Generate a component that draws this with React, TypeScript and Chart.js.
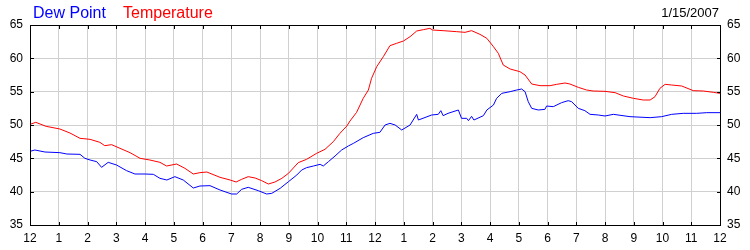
import React, { useEffect, useRef } from "react";
import { Chart, registerables } from "chart.js";

Chart.register(...registerables);

const hourLabels = ["12", "1", "2", "3", "4", "5", "6", "7", "8", "9", "10", "11", "12", "1", "2", "3", "4", "5", "6", "7", "8", "9", "10", "11", "12"];
const yTicks = [35, 40, 45, 50, 55, 60, 65];
const dateLabel = "1/15/2007";
const seriesNames = ["Dew Point", "Temperature"];

const tempHours = [0, 0.2, 0.56, 1.04, 1.39, 1.74, 2.09, 2.43, 2.6, 2.84, 3.13, 3.48, 3.83, 4.17, 4.52, 4.75, 5.1, 5.39, 5.68, 5.91, 6.15, 6.61, 6.96, 7.17, 7.36, 7.59, 7.83, 8.06, 8.29, 8.52, 8.76, 8.99, 9.33, 9.62, 9.97, 10.26, 10.55, 10.78, 11.02, 11.13, 11.36, 11.59, 11.77, 11.88, 12.06, 12.29, 12.52, 12.75, 12.99, 13.22, 13.45, 13.68, 13.91, 14.0, 14.37, 14.84, 15.13, 15.36, 15.65, 15.89, 16.12, 16.29, 16.46, 16.7, 17.04, 17.22, 17.45, 17.74, 18.09, 18.32, 18.61, 18.78, 19.07, 19.36, 19.59, 20.0, 20.35, 20.64, 20.99, 21.33, 21.57, 21.74, 21.91, 22.09, 22.32, 22.67, 23.07, 23.42, 23.77, 24];
const tempValues = [50.1, 50.4, 49.8, 49.4, 48.8, 48.0, 47.85, 47.4, 46.9, 47.05, 46.5, 45.85, 45.0, 44.75, 44.4, 43.85, 44.15, 43.5, 42.65, 42.85, 42.95, 42.15, 41.75, 41.45, 41.85, 42.25, 42.05, 41.65, 41.15, 41.45, 42.0, 42.75, 44.35, 44.85, 45.75, 46.35, 47.5, 48.75, 49.85, 50.6, 51.9, 54.0, 55.25, 57.0, 58.75, 60.25, 61.9, 62.25, 62.6, 63.25, 64.1, 64.3, 64.5, 64.25, 64.15, 64.0, 63.9, 64.15, 63.6, 63.0, 61.75, 60.75, 59.0, 58.4, 58.0, 57.5, 56.15, 55.9, 55.9, 56.1, 56.3, 56.15, 55.65, 55.25, 55.1, 55.05, 54.85, 54.35, 54.0, 53.75, 53.75, 54.25, 55.5, 56.1, 56.0, 55.85, 55.15, 55.1, 54.9, 54.75];

const dewHours = [0, 0.17, 0.52, 1.04, 1.28, 1.74, 1.91, 2.09, 2.32, 2.49, 2.72, 3.01, 3.36, 3.65, 4.0, 4.29, 4.52, 4.76, 5.04, 5.33, 5.68, 5.91, 6.26, 6.61, 7.01, 7.19, 7.36, 7.59, 7.94, 8.23, 8.41, 8.7, 8.99, 9.28, 9.45, 9.62, 9.86, 10.09, 10.2, 10.38, 10.61, 10.84, 11.07, 11.25, 11.59, 11.94, 12.17, 12.35, 12.52, 12.7, 12.93, 13.22, 13.45, 13.51, 13.97, 14.2, 14.29, 14.37, 14.54, 14.9, 15.01, 15.19, 15.25, 15.36, 15.44, 15.77, 15.89, 16.12, 16.23, 16.41, 16.7, 16.93, 17.1, 17.22, 17.33, 17.45, 17.68, 17.91, 17.97, 18.2, 18.49, 18.72, 18.84, 19.07, 19.3, 19.48, 19.77, 20.0, 20.29, 20.87, 21.57, 21.97, 22.32, 22.72, 23.19, 23.54, 24];
const dewValues = [46.05, 46.25, 45.95, 45.85, 45.65, 45.6, 45.0, 44.75, 44.5, 43.65, 44.4, 44.0, 43.15, 42.65, 42.65, 42.6, 42.0, 41.75, 42.25, 41.75, 40.55, 40.85, 40.9, 40.25, 39.65, 39.65, 40.35, 40.65, 40.15, 39.65, 39.75, 40.5, 41.5, 42.5, 43.25, 43.6, 43.85, 44.1, 43.85, 44.5, 45.35, 46.25, 46.85, 47.25, 48.1, 48.75, 48.9, 50.0, 50.25, 50.0, 49.25, 50.0, 51.6, 50.75, 51.5, 51.6, 52.15, 51.4, 51.75, 52.25, 51.0, 51.0, 50.65, 51.3, 50.75, 51.4, 52.25, 53.0, 54.0, 54.75, 55.0, 55.25, 55.4, 55.0, 53.5, 52.5, 52.25, 52.35, 52.85, 52.75, 53.35, 53.65, 53.5, 52.5, 52.15, 51.6, 51.5, 51.35, 51.6, 51.25, 51.1, 51.25, 51.6, 51.75, 51.75, 51.85, 51.85];

const FONT = "'Liberation Sans', Arial, Helvetica, sans-serif";

const framePlugin = {
  id: "frameAndHeader",
  afterDraw(chart: any) {
    const { ctx, chartArea: a, scales } = chart;
    ctx.save();
    ctx.fillStyle = "#000";
    const w = a.right - a.left;
    const h = a.bottom - a.top;
    ctx.fillRect(a.left, a.top, w + 1, 1);
    ctx.fillRect(a.left, a.bottom, w + 1, 1);
    ctx.fillRect(a.left, a.top, 1, h + 1);
    ctx.fillRect(a.right, a.top, 1, h + 1);
    for (let i = 0; i < hourLabels.length; i++) {
      const px = Math.round(scales.x.getPixelForValue(i));
      ctx.fillRect(px, a.top, 1, 4);
      ctx.fillRect(px, a.bottom - 3, 1, 4);
    }
    for (const v of yTicks) {
      const py = Math.round(scales.y.getPixelForValue(v));
      ctx.fillRect(a.left, py, 4, 1);
      ctx.fillRect(a.right - 3, py, 4, 1);
    }
    ctx.font = `16px ${FONT}`;
    ctx.textBaseline = "alphabetic";
    ctx.textAlign = "left";
    ctx.fillStyle = "#0000ff";
    ctx.fillText(seriesNames[0], 33, 18);
    ctx.fillStyle = "#ff0000";
    ctx.fillText(seriesNames[1], 123, 18);
    ctx.font = `13px ${FONT}`;
    ctx.fillStyle = "#000";
    ctx.textAlign = "right";
    ctx.fillText(dateLabel, 719, 17);
    ctx.restore();
  },
};

export default function App() {
  const ref = useRef<HTMLCanvasElement | null>(null);
  useEffect(() => {
    if (!ref.current) return;
    const toPoints = (xs: number[], ys: number[]) => xs.map((x, i) => ({ x, y: ys[i] }));
    const chart = new Chart(ref.current, {
      type: "line",
      data: {
        datasets: [
          {
            label: seriesNames[1],
            data: toPoints(tempHours, tempValues),
            borderColor: "#ff0000",
            borderWidth: 1,
            pointRadius: 0,
            tension: 0,
            yAxisID: "y",
          },
          {
            label: seriesNames[0],
            data: toPoints(dewHours, dewValues),
            borderColor: "#0000ff",
            borderWidth: 1,
            pointRadius: 0,
            tension: 0,
            yAxisID: "y",
          },
        ],
      },
      options: {
        animation: false,
        responsive: false,
        devicePixelRatio: 1,
        layout: { padding: { top: 25, left: 0, right: 0, bottom: 0 } },
        plugins: { legend: { display: false }, tooltip: { enabled: false }, title: { display: false } },
        font: { family: FONT },
        scales: {
          x: {
            type: "linear",
            min: 0,
            max: 24,
            grid: { color: "#d0d0d0", drawTicks: false, lineWidth: 1 },
            border: { display: false },
            ticks: {
              stepSize: 1,
              autoSkip: false,
              maxRotation: 0,
              padding: 6,
              color: "#000",
              font: { family: FONT, size: 12 },
              callback: (v: any) => hourLabels[Number(v)] ?? "",
            },
            afterFit: (s: any) => {
              s.height = 25;
            },
          },
          y: {
            position: "left",
            min: 35,
            max: 65,
            grid: { color: "#d0d0d0", drawTicks: false, lineWidth: 1 },
            border: { display: false },
            ticks: { stepSize: 5, padding: 7, color: "#000", font: { family: FONT, size: 12 } },
            afterFit: (s: any) => {
              s.width = 30;
            },
          },
          y2: {
            position: "right",
            min: 35,
            max: 65,
            grid: { display: false, drawTicks: false },
            border: { display: false },
            ticks: { stepSize: 5, padding: 7, color: "#000", font: { family: FONT, size: 12 } },
            afterFit: (s: any) => {
              s.width = 30;
            },
          },
        },
      },
      plugins: [framePlugin],
    });
    return () => chart.destroy();
  }, []);
  return (
    <div style={{ position: "absolute", left: 0, top: 0, width: 750, height: 250, background: "#fff" }}>
      <canvas ref={ref} width={750} height={250} style={{ display: "block" }} />
    </div>
  );
}
